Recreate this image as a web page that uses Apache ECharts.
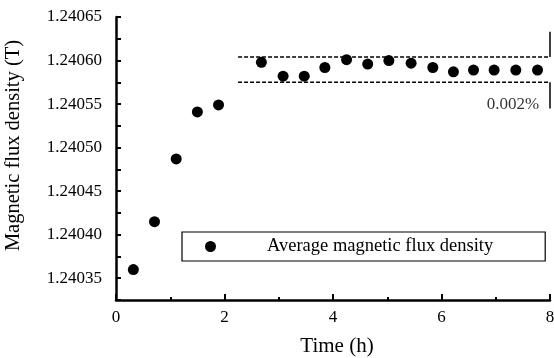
<!DOCTYPE html>
<html>
<head>
<meta charset="utf-8">
<script src="https://cdn.jsdelivr.net/npm/echarts@6/dist/echarts.min.js"></script>
<style>
  html, body { margin: 0; padding: 0; background: #fff; }
  #chart { width: 554px; height: 358px; }
</style>
</head>
<body>
<div id="chart"></div>
<script>
// time in hours
const times = [0.32, 0.71, 1.11, 1.5, 1.89, 2.68, 3.08, 3.47, 3.85, 4.25, 4.64, 5.03, 5.44, 5.84, 6.22, 6.59, 6.97, 7.37, 7.77];
// average magnetic flux density (T)
const fluxValues = [1.24036, 1.240415, 1.240487, 1.240541, 1.240549, 1.240598, 1.240582, 1.240582, 1.240592, 1.240601, 1.240596, 1.2406, 1.240597, 1.240592, 1.240587, 1.240589, 1.240589, 1.240589, 1.240589];

const yTickLabels = ["1.24035", "1.24040", "1.24045", "1.24050", "1.24055", "1.24060", "1.24065"];
const xTickLabels = ["0", "2", "4", "6", "8"];

// 0.002% band
const bandStart = 2.25;
const bandEnd = 8;
const bandUpper = 1.240604;
const bandLower = 1.240575;
const bracketTop = 1.240633;
const bracketBottom = 1.240545;
const bandLabel = "0.002%";
const bandLabelPos = [7.8, 1.24055];

const seriesName = "Average magnetic flux density";

const chart = echarts.init(document.getElementById("chart"));

const black = "#000";
const font = "'Liberation Serif', 'Times New Roman', serif";

const option = {
  animation: false,
  textStyle: { fontFamily: font, color: black },
  grid: {
    left: 116,
    right: 4,
    top: 17,
    bottom: 58,
    outerBoundsMode: "none",
  },
  legend: {
    data: [seriesName],
    left: 182,
    top: 232,
    orient: "horizontal",
    itemWidth: 11,
    itemHeight: 11,
    padding: [5, 52, 5, 23],
    borderColor: black,
    borderWidth: 1.2,
    textStyle: {
      fontFamily: font,
      fontSize: 18.5,
      color: black,
      padding: [0, 0, 0, 46],
    },
  },
  xAxis: {
    type: "value",
    min: 0,
    max: 8,
    interval: 2,
    name: "Time (h)",
    nameLocation: "middle",
    nameGap: 36,
    nameTextStyle: { fontFamily: font, fontSize: 21, color: black, padding: [0, 0, 0, 8] },
    axisLine: { lineStyle: { color: black, width: 2.5 } },
    axisTick: { inside: true, length: 6, lineStyle: { color: black, width: 2 } },
    minorTick: { show: true, splitNumber: 2, length: 3, lineStyle: { color: black, width: 2 } },
    axisLabel: {
      fontFamily: font,
      fontSize: 17,
      color: black,
      margin: 9,
      formatter: (v) => (xTickLabels.includes(String(v)) ? String(v) : ""),
    },
    splitLine: { show: false },
  },
  yAxis: {
    type: "value",
    min: 1.240325,
    max: 1.24065,
    interval: 0.000025,
    name: "Magnetic flux density (T)",
    nameLocation: "middle",
    nameGap: 92,
    nameTextStyle: { fontFamily: font, fontSize: 20.5, color: black, padding: [0, 0, 0, 26] },
    axisLine: { show: true, lineStyle: { color: black, width: 2.5 } },
    axisTick: { show: true, inside: true, length: 5, lineStyle: { color: black, width: 2 } },
    axisLabel: {
      fontFamily: font,
      fontSize: 17,
      color: black,
      margin: 14,
      formatter: (v) => {
        const s = v.toFixed(5);
        return yTickLabels.includes(s) ? s : "";
      },
    },
    splitLine: { show: false },
  },
  series: [
    {
      name: seriesName,
      type: "scatter",
      symbol: "circle",
      symbolSize: 11,
      itemStyle: { color: black, opacity: 1 },
      data: times.map((t, i) => [t, fluxValues[i]]),
      z: 5,
    },
    {
      name: "upper",
      type: "line",
      symbol: "none",
      lineStyle: { color: black, width: 1.6, type: [4, 2] },
      data: [[bandStart, bandUpper], [bandEnd, bandUpper]],
      clip: false,
    },
    {
      name: "lower",
      type: "line",
      symbol: "none",
      lineStyle: { color: black, width: 1.6, type: [4, 2] },
      data: [[bandStart, bandLower], [bandEnd, bandLower]],
      clip: false,
    },
    {
      name: "bracketTop",
      type: "line",
      symbol: "none",
      lineStyle: { color: black, width: 1.5 },
      data: [[bandEnd, bracketTop], [bandEnd, bandUpper]],
      clip: false,
    },
    {
      name: "bracketBottom",
      type: "line",
      symbol: "none",
      lineStyle: { color: black, width: 1.5 },
      data: [[bandEnd, bandLower], [bandEnd, bracketBottom]],
      clip: false,
    },
    {
      name: "bandLabel",
      type: "scatter",
      symbolSize: 0,
      data: [bandLabelPos],
      label: {
        show: true,
        formatter: bandLabel,
        position: "left",
        distance: 0,
        fontFamily: font,
        fontSize: 17,
        color: black,
      },
      silent: true,
    },
  ],
};

chart.setOption(option);
</script>
</body>
</html>
